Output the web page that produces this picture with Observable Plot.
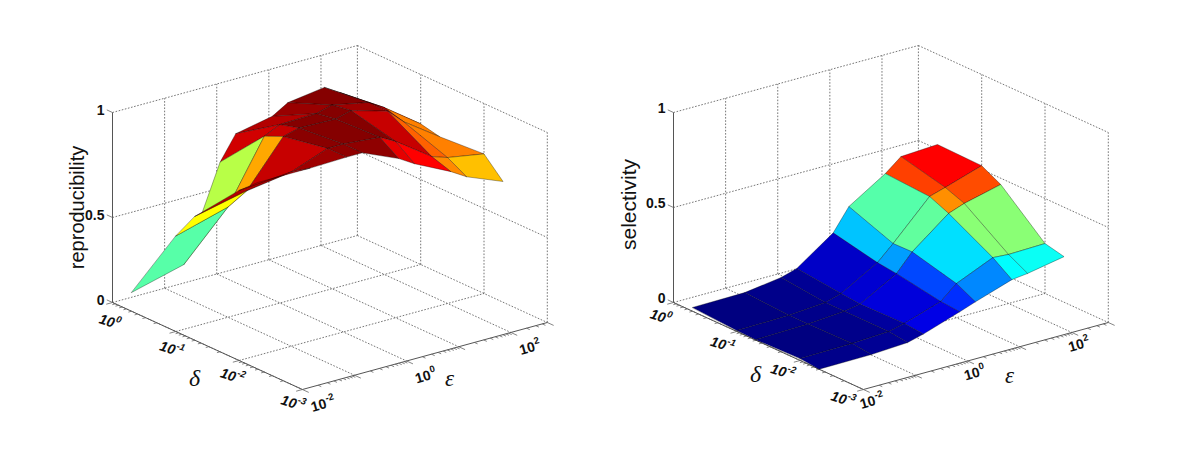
<!DOCTYPE html>
<html>
<head>
<meta charset="utf-8">
<script src="https://cdn.jsdelivr.net/npm/d3@7"></script>
<script src="https://cdn.jsdelivr.net/npm/@observablehq/plot@0.6"></script>
<style>
html,body{margin:0;padding:0;background:#fff;}
svg{display:block;}
</style>
</head>
<body>
<div id="chart"></div>
<script>
// Grid of the two surfaces
const epsilonValues = [0.01, 0.1, 0.5, 1, 5, 10, 50, 100, 500];
const deltaValues = [0.5, 0.1, 0.05, 0.01, 0.005];

// Height of each surface: rows follow deltaValues, columns epsilonValues
const reproducibility = [
  [0.11, 0.19, 0.69, 0.805, 0.84, 0.885, 0.91, 0.865, 0.755],
  [0.55, 0.62, 0.91, 0.945, 0.95, 0.97, 0.935, 0.89, 0.765],
  [0.685, 0.74, 0.95, 0.97, 0.965, 0.985, 0.935, 0.865, 0.745],
  [0.905, 0.925, 0.99, 0.99, 0.975, 0.935, 0.815, 0.79, 0.76],
  [0.985, 0.985, 0.99, 0.99, 0.915, 0.87, 0.785, 0.74, 0.67]
];
const selectivity = [
  [0.02, 0.023, 0.05, 0.075, 0.21, 0.326, 0.447, 0.514, 0.525],
  [0.005, 0.01, 0.025, 0.05, 0.16, 0.238, 0.433, 0.458, 0.52],
  [0.003, 0.01, 0.025, 0.04, 0.148, 0.24, 0.39, 0.42, 0.467],
  [0.01, 0.015, 0.025, 0.045, 0.108, 0.18, 0.264, 0.258, 0.263],
  [0, 0.002, 0.013, 0.035, 0.1, 0.13, 0.194, 0.204, 0.24]
];

// Colour value of each facet, read on the jet colormap
const reproducibilityColor = [
  [0.46, 0.555, 0.92, 0.95, 0.975, 0.995, 0.98, 0.89],
  [0.625, 0.71, 0.93, 0.995, 0.995, 0.97, 0.93, 0.75],
  [0.95, 0.93, 0.99, 0.995, 0.995, 0.93, 0.78, 0.75],
  [0.93, 0.97, 0.985, 0.985, 0.9, 0.875, 0.74, 0.687]
];
const selectivityColor = [
  [0, 0.01, 0.02, 0.07, 0.317, 0.458, 0.8125, 0.875],
  [0.005, 0.01, 0.03, 0.08, 0.28, 0.47, 0.735, 0.8],
  [0, 0.01, 0.03, 0.09, 0.195, 0.345, 0.51, 0.51],
  [0.01, 0.02, 0.03, 0.1, 0.17, 0.258, 0.375, 0.385]
];
const jetStops = [0, 0.125, 0.375, 0.625, 0.875, 1];
const jetColors = ["#000080", "#0000ff", "#00ffff", "#ffff00", "#ff0000", "#800000"];

// Axis ticks: value, base and exponent of the printed label
const epsilonTicks = [0.01, 0.1, 1, 10, 100];
const epsilonLabels = [[0.01, "10", "-2"], [1, "10", "0"], [100, "10", "2"]];
const deltaTicks = [1, 0.1, 0.01];
const deltaLabels = [[1, "10", "0"], [0.1, "10", "-1"], [0.01, "10", "-2"], [0.001, "10", "-3"]];
const zLabels = [[0, "0"], [0.5, "0.5"], [1, "1"]];
const minorMultipliers = [2, 3, 4, 5, 6, 7, 8, 9];

// The 3D box as it appears on screen
const epsilonDomain = [0.01, 500];
const deltaDomain = [1, 0.001];
const epsilonPos = d3.scaleLog(epsilonDomain, [0, 1]);
const deltaPos = d3.scaleLog(deltaDomain, [0, 1]);

function turned(x, y, along, up, deg) {
  const r = deg * Math.PI / 180;
  return {x: x + along * Math.cos(r) + up * Math.sin(r), y: y + along * Math.sin(r) - up * Math.cos(r)};
}

function panel(cfg) {
  const {ox, oy, zScale, values, colors, title, titleX, deltaX, deltaY, epsX, epsY} = cfg;
  const px = (e, d) => ox + 189.9 * deltaPos(d) + 244.9 * epsilonPos(e);
  const py = (e, d, z) => oy + 87 * deltaPos(d) - 67 * epsilonPos(e) - zScale(z);
  const [e0, e1] = epsilonDomain, [d0, d1] = deltaDomain;
  const seg = (a, b) => ({x1: px(a[0], a[1]), y1: py(a[0], a[1], a[2]), x2: px(b[0], b[1]), y2: py(b[0], b[1], b[2])});

  // dotted box
  const dotted = [];
  for (const e of [...epsilonTicks, e1]) {
    dotted.push(seg([e, d0, 0], [e, d1, 0]));
    if (e !== e0) dotted.push(seg([e, d0, 0], [e, d0, 1]));
  }
  for (const d of [...deltaTicks, d1]) {
    if (d !== d1) dotted.push(seg([e0, d, 0], [e1, d, 0]));
    if (d !== d0) dotted.push(seg([e1, d, 0], [e1, d, 1]));
  }
  for (const z of [0.5, 1]) {
    dotted.push(seg([e0, d0, z], [e1, d0, z]));
    dotted.push(seg([e1, d0, z], [e1, d1, z]));
  }

  // solid axes with outward ticks
  const solid = [seg([e0, d0, 0], [e0, d0, 1]), seg([e0, d0, 0], [e0, d1, 0]), seg([e0, d1, 0], [e1, d1, 0])];
  const ticks = [];
  const eTick = (e, f) => ticks.push(seg([e, d1, 0], [e, d1 * Math.pow(10, -f), 0]));
  const dTick = (d, f) => ticks.push(seg([e0, d, 0], [e0 * Math.pow(10, -f), d, 0]));
  for (const e of epsilonTicks) {
    eTick(e, 0.1);
    for (const m of minorMultipliers) if (e * m < e1) eTick(e * m, 0.05);
  }
  eTick(e1, 0.1);
  for (const d of [0.001, ...deltaTicks]) {
    dTick(d, 0.12);
    if (d < 1) for (const m of minorMultipliers) dTick(d * m, 0.06);
  }
  for (const [z] of zLabels) ticks.push(seg([e0, d0 * Math.pow(10, 0.09), z], [e0, d0, z]));

  // facets, far ones first
  const facets = [];
  for (let i = 0; i < deltaValues.length - 1; i++) {
    for (let j = epsilonValues.length - 2; j >= 0; j--) {
      const id = `${title}-${i}-${j}`;
      for (const [r, s] of [[i, j], [i, j + 1], [i + 1, j + 1], [i + 1, j]]) {
        const e = epsilonValues[s], d = deltaValues[r], z = values[r][s];
        facets.push({id, x: px(e, d), y: py(e, d, z), t: colors[i][j]});
      }
    }
  }

  const fontTick = {fontFamily: "Liberation Sans", fontWeight: "bold", fill: "#111"};
  const rotE = -16, rotD = 17;
  const eBase = epsilonLabels.map(([e, b, x]) => ({...turned(px(e, d1) + cfg.epsTickDx, py(e, d1, 0) + cfg.epsTickDy, 4, 0, rotE), s: b}));
  const eExp = epsilonLabels.map(([e, b, x]) => ({...turned(px(e, d1) + cfg.epsTickDx, py(e, d1, 0) + cfg.epsTickDy, 4.5, 5, rotE), s: x}));
  const dPoint = d => [
    px(e0, d) + cfg.deltaTickDx + cfg.deltaTickSlopeX * deltaPos(d),
    py(e0, d, 0) + cfg.deltaTickDy + cfg.deltaTickSlopeY * deltaPos(d)
  ];
  const dBase = deltaLabels.map(([d, b, x]) => ({...turned(...dPoint(d), 3, 0, rotD), s: b}));
  const dExp = deltaLabels.map(([d, b, x]) => ({...turned(...dPoint(d), 3.5, 5, rotD), s: x}));
  const zLab = zLabels.map(([z, s]) => ({x: ox - 4, y: py(e0, d0, z) + cfg.zLabelDy, s}));

  return [
    Plot.link(dotted, {x1: "x1", y1: "y1", x2: "x2", y2: "y2", stroke: "#666", strokeWidth: 0.9, strokeDasharray: "1.6,1.6"}),
    Plot.link(solid, {x1: "x1", y1: "y1", x2: "x2", y2: "y2", stroke: "#555", strokeWidth: 1}),
    Plot.link(ticks, {x1: "x1", y1: "y1", x2: "x2", y2: "y2", stroke: "#666", strokeWidth: 0.8}),
    Plot.line(facets, {x: "x", y: "y", z: "id", fill: "t", stroke: "#000", strokeWidth: 0.6, strokeOpacity: 0.55, curve: "linear-closed"}),
    Plot.text(eBase, {x: "x", y: "y", text: "s", rotate: rotE, textAnchor: "end", fontSize: 14, ...fontTick}),
    Plot.text(eExp, {x: "x", y: "y", text: "s", rotate: rotE, textAnchor: "start", fontSize: 9.5, ...fontTick}),
    Plot.text(dBase, {x: "x", y: "y", text: "s", rotate: rotD, textAnchor: "end", fontStyle: "italic", fontSize: 14, ...fontTick}),
    Plot.text(dExp, {x: "x", y: "y", text: "s", rotate: rotD, textAnchor: "start", fontStyle: "italic", fontSize: 9.5, ...fontTick}),
    Plot.text(zLab, {x: "x", y: "y", text: "s", textAnchor: "end", dx: -4, fontSize: 14, ...fontTick}),
    Plot.text([title], {x: titleX, y: cfg.titleY, text: d => d, rotate: -90, fontFamily: "Liberation Sans", fontSize: cfg.titleSize, fill: "#111"}),
    Plot.text(["δ"], {x: deltaX, y: deltaY, text: d => d, fontFamily: "Liberation Serif", fontStyle: "italic", fontSize: 24, fill: "#111"}),
    Plot.text(["ε"], {x: epsX, y: epsY, text: d => d, fontFamily: "Liberation Serif", fontStyle: "italic", fontSize: 23, fill: "#111"})
  ];
}

const chart = Plot.plot({
  width: 1200,
  height: 450,
  margin: 0,
  style: {background: "#fff", overflow: "visible"},
  x: {domain: [0, 1200], range: [0, 1200], axis: null},
  y: {domain: [0, 450], range: [0, 450], axis: null},
  color: {type: "linear", domain: jetStops, range: jetColors, interpolate: "rgb"},
  marks: [
    ...panel({
      ox: 112, oy: 302, values: reproducibility, colors: reproducibilityColor,
      zScale: d3.scaleLinear([0, 0.5, 1], [0, 85, 190]),
      title: "reproducibility", titleX: 77, titleY: 207, titleSize: 20,
      deltaX: 194, deltaY: 378, epsX: 449, epsY: 378,
      epsTickDx: 20, epsTickDy: 15, deltaTickDx: -1, deltaTickDy: 20, deltaTickSlopeX: -8, deltaTickSlopeY: -6,
      zLabelDy: -2
    }),
    ...panel({
      ox: 673, oy: 302, values: selectivity, colors: selectivityColor,
      zScale: d3.scaleLinear([0, 1], [0, 190]),
      title: "selectivity", titleX: 629, titleY: 204, titleSize: 21,
      deltaX: 755, deltaY: 374, epsX: 1009, epsY: 375,
      epsTickDx: 8, epsTickDy: 12, deltaTickDx: -11, deltaTickDy: 15, deltaTickSlopeX: -9, deltaTickSlopeY: -5,
      zLabelDy: -4
    })
  ]
});
document.getElementById("chart").appendChild(chart);
</script>
</body>
</html>
